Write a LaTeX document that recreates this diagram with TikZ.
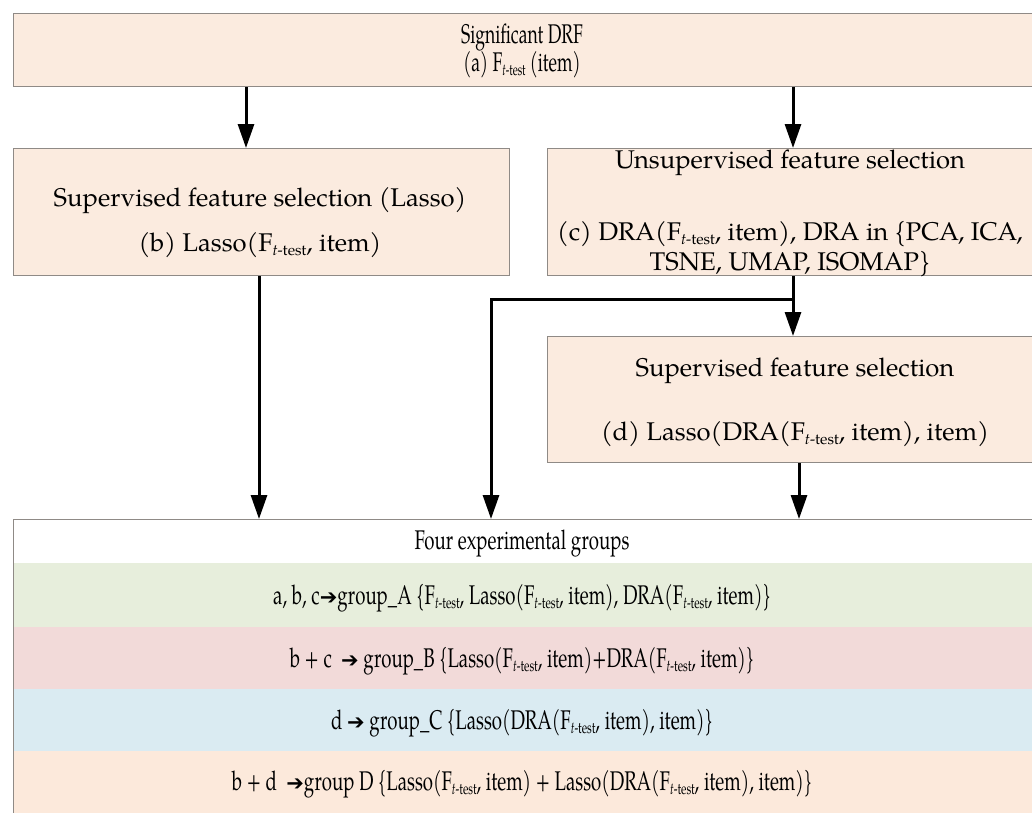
\documentclass[tikz,border=0pt]{standalone}
\usepackage{fontspec}
\setmainfont{texgyrepagella}[Extension=.otf,UprightFont=*-regular,ItalicFont=*-italic,BoldFont=*-bold,BoldItalicFont=*-bolditalic]
\newfontfamily\condfont{texgyrepagella}[Extension=.otf,UprightFont=*-regular,ItalicFont=*-italic,BoldFont=*-bold,BoldItalicFont=*-bolditalic,FakeStretch=0.69]
\newfontfamily\topfont{texgyrepagella}[Extension=.otf,UprightFont=*-regular,ItalicFont=*-italic,BoldFont=*-bold,BoldItalicFont=*-bolditalic,FakeStretch=0.65]
\newfontfamily\arrowfont{DejaVu Sans}
\usetikzlibrary{arrows.meta}
\definecolor{peach}{HTML}{FBEBDF}
\definecolor{peachrow}{HTML}{FCE9DB}
\definecolor{greenrow}{HTML}{E7EEDC}
\definecolor{redrow}{HTML}{F2DAD9}
\definecolor{bluerow}{HTML}{DAEBF2}
\definecolor{boxline}{HTML}{8F8A86}
\newcommand{\Ft}{F\raisebox{-0.35ex}{\scalebox{0.6}{\textit{t}-test}}}
\newcommand{\Arr}{{\arrowfont\fontsize{21}{24}\selectfont ➔}}
\tikzset{
  box/.style={draw=boxline, line width=1pt, fill=peach, rectangle, inner sep=0pt, anchor=north west},
  rowbox/.style={rectangle, inner sep=0pt, anchor=north west, minimum width=1030pt},
  mid/.style={font=\fontsize{25.6}{30}\selectfont, inner sep=0pt, anchor=base},
  cond/.style={font=\condfont\fontsize{27}{30}\selectfont, inner sep=0pt, anchor=base},
  topt/.style={font=\topfont\fontsize{27}{30}\selectfont, inner sep=0pt, anchor=base},
  arr/.style={line width=3pt, -{Triangle[length=24pt,width=16pt]}},
  plain/.style={line width=3pt}
}
\begin{document}
\begin{tikzpicture}[x=1pt,y=-1pt]
\useasboundingbox (0,0) rectangle (1032,812);
% boxes
\node[box, minimum width=1030pt, minimum height=73pt] (top) at (13,13) {};
\node[box, minimum width=496pt, minimum height=127pt] (b) at (13,148) {};
\node[box, minimum width=495pt, minimum height=127pt] (c) at (547,148) {};
\node[box, minimum width=495pt, minimum height=126pt] (d) at (547,336) {};
% bottom group box
\node[rowbox, minimum height=44pt, fill=white] (gtitle) at (13,519) {};
\node[rowbox, minimum height=64pt, fill=greenrow] (ga) at (13,563) {};
\node[rowbox, minimum height=62pt, fill=redrow] (gb) at (13,627) {};
\node[rowbox, minimum height=62pt, fill=bluerow] (gc) at (13,689) {};
\node[rowbox, minimum height=63pt, fill=peachrow] (gd) at (13,751) {};
\node[draw=boxline, line width=1pt, rectangle, inner sep=0pt, anchor=north west, minimum width=1030pt, minimum height=296pt] (grp) at (13,519) {};
% texts
\node[topt] (t1) at (522,43) {Significant DRF};
\node[topt] (t2) at (522,71) {(a) \Ft\ (item)};
\node[mid] (b1) at (260,206) {Supervised feature selection (Lasso)};
\node[mid] (b2) at (260,251) {(b) Lasso(\Ft, item)};
\node[mid] (c1) at (790,168) {Unsupervised feature selection};
\node[mid] (c2) at (790,240) {(c) DRA(\Ft, item), DRA in \{PCA, ICA,};
\node[mid] (c3) at (790,270) {TSNE, UMAP, ISOMAP\}};
\node[mid] (d1) at (795,376) {Supervised feature selection};
\node[mid] (d2) at (795,440) {(d) Lasso(DRA(\Ft, item), item)};
\node[cond] (gt) at (522,549) {Four experimental groups};
\node[cond] (ta) at (522,604) {a, b, c\Arr group\_A \{\Ft, Lasso(\Ft, item), DRA(\Ft, item)\}};
\node[cond] (tb) at (522,667) {b + c \ \Arr\ group\_B \{Lasso(\Ft, item)+DRA(\Ft, item)\}};
\node[cond] (tc) at (522,729) {d \Arr\ group\_C \{Lasso(DRA(\Ft, item), item)\}};
\node[cond] (td) at (522,790) {b + d \ \Arr group D \{Lasso(\Ft, item) + Lasso(DRA(\Ft, item), item)\}};
% connector x positions
\coordinate (xa) at (246,0);
\coordinate (xc) at (793,0);
\coordinate (xb) at (259,0);
\coordinate (xl) at (491,0);
\coordinate (xd) at (799,0);
\coordinate (j) at (793,299);
% connectors
\draw[arr] (top.south -| xa) -- (b.north -| xa);
\draw[arr] (top.south -| xc) -- (c.north -| xc);
\draw[arr] (c.south -| xc) -- (d.north -| xc);
\draw[arr] (j) -| (grp.north -| xl);
\draw[arr] (b.south -| xb) -- (grp.north -| xb);
\draw[arr] (d.south -| xd) -- (grp.north -| xd);
\end{tikzpicture}
\end{document}
